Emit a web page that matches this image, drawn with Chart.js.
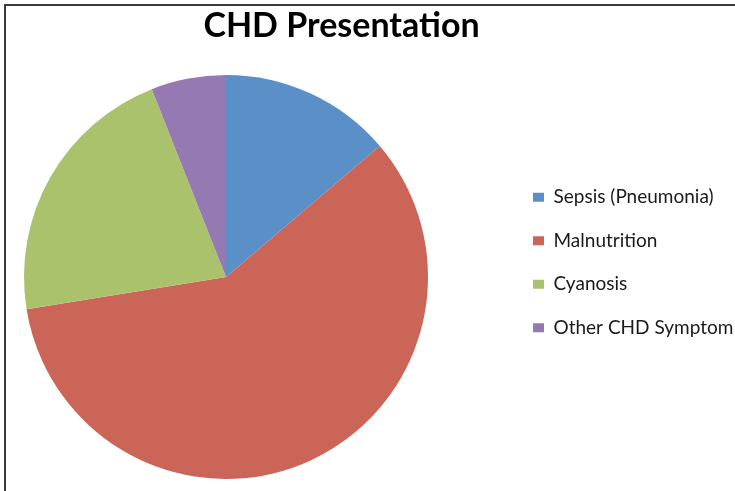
<!DOCTYPE html>
<html>
<head>
<meta charset="utf-8">
<script src="https://cdn.jsdelivr.net/npm/chart.js@4.4.1/dist/chart.umd.min.js"></script>
<style>
  html, body { margin: 0; padding: 0; background: #ffffff; }
  #wrap { position: relative; width: 735px; height: 491px; }
</style>
</head>
<body>
<div id="wrap"><canvas id="c"></canvas></div>
<script>
const TITLE = 'CHD Presentation';
const categories = ['Sepsis (Pneumonia)', 'Malnutrition', 'Cyanosis', 'Other CHD Symptom'];
const values = [23, 98, 36, 10];
const colors = ['#5A8FC8', '#CB6558', '#AAC26B', '#9479B2'];

const FONT = 'Lato, Carlito, Calibri, "Open Sans", sans-serif';

const framePlugin = {
  id: 'frame',
  beforeLayout(chart) {
    const lg = chart.legend;
    if (lg && !lg._patched) {
      const f = lg.fit;
      lg.fit = function () { f.call(this); this.width = 307; };
      lg._patched = true;
    }
  },
  afterLayout(chart) {
    const lg = chart.legend;
    if (lg) {
      const pad = lg.options.labels.padding;
      lg.left = 533 - pad;
      lg.top += 23;
      lg.bottom += 23;
    }
    const t = chart.titleBlock;
    if (t) { t.left = 0; t.right = 683; }
  },
  afterDraw(chart) {
    const ctx = chart.ctx;
    ctx.save();
    ctx.fillStyle = '#3a3a3a';
    ctx.fillRect(4, 4, 731, 2);
    ctx.fillRect(4, 4, 2, 487);
    ctx.restore();
  }
};

new Chart(document.getElementById('c'), {
  type: 'pie',
  data: {
    labels: categories,
    datasets: [{
      data: values,
      backgroundColor: colors,
      borderWidth: 0
    }]
  },
  plugins: [framePlugin],
  options: {
    responsive: true,
    maintainAspectRatio: false,
    animation: false,
    layout: { padding: { left: 24, right: 0, top: 0, bottom: 12 } },
    plugins: {
      title: {
        display: true,
        text: TITLE,
        color: '#000000',
        font: { family: FONT, size: 34, weight: 'bold', lineHeight: 1.2 },
        padding: { top: 6, bottom: 28.2 }
      },
      legend: {
        display: true,
        position: 'right',
        labels: {
          color: '#1a1a1a',
          font: { family: FONT, size: 19 },
          boxWidth: 11,
          boxHeight: 9,
          padding: 24.5
        }
      },
      tooltip: { enabled: false }
    }
  }
});
</script>
</body>
</html>
